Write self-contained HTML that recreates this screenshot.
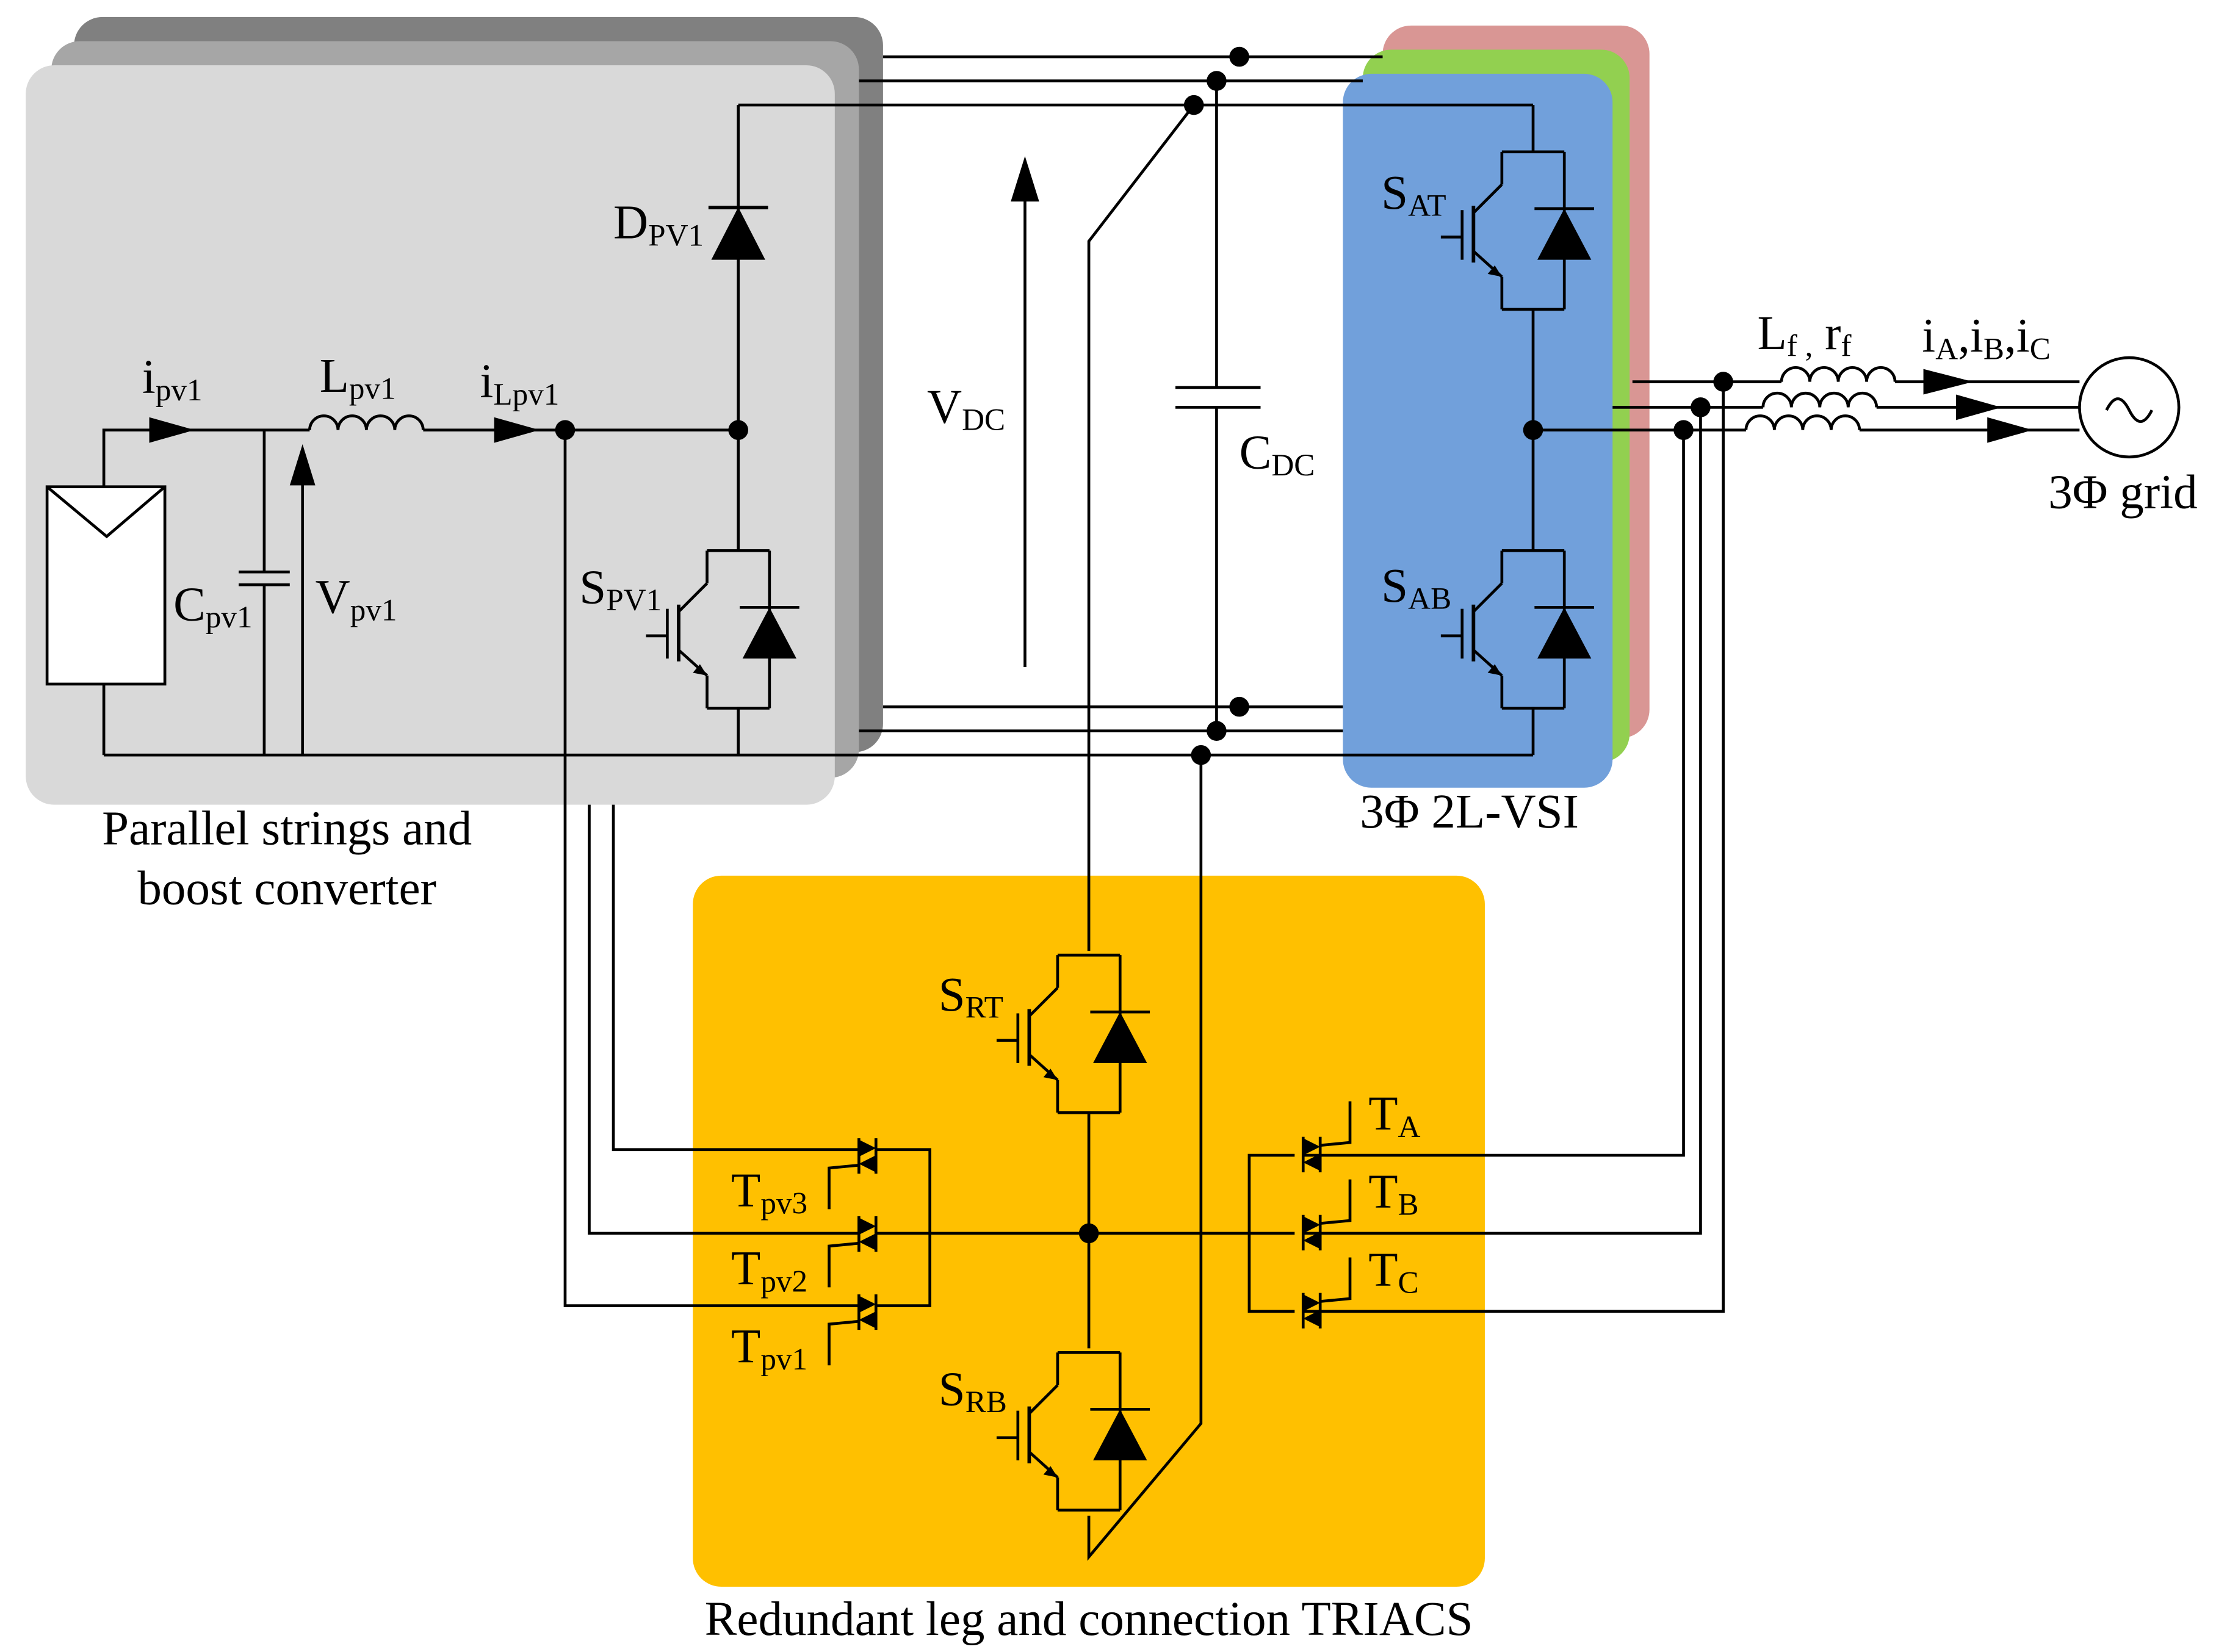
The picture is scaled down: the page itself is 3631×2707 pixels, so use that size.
<!DOCTYPE html>
<html><head><meta charset="utf-8"><style>
html,body{margin:0;padding:0;background:#fff;}
svg{display:block;}
text{font-family:"Liberation Serif",serif;fill:#000;}
</style></head><body>
<svg width="3631" height="2707" viewBox="0 0 1561 1164" xmlns="http://www.w3.org/2000/svg">
<defs>
<g id="igbt" stroke="#000" stroke-width="2" fill="none">
<line x1="-22" y1="0" x2="22" y2="0"/>
<line x1="-22" y1="0" x2="-22" y2="23"/>
<line x1="22" y1="0" x2="22" y2="111"/>
<line x1="-22" y1="23" x2="-42" y2="43"/>
<line x1="-42" y1="38" x2="-42" y2="78" stroke-width="2.5"/>
<line x1="-50" y1="41" x2="-50" y2="76"/>
<line x1="-65" y1="60" x2="-50" y2="60"/>
<line x1="-42" y1="70" x2="-22" y2="88"/>
<line x1="-22" y1="88" x2="-22" y2="111"/>
<line x1="-22" y1="111" x2="22" y2="111"/>
<polygon points="3,76 41,76 22,40" fill="#000" stroke="none"/>
<line x1="1" y1="40" x2="43" y2="40"/>
<polygon points="-22,88 -32,86 -27,80" fill="#000" stroke="none"/>
</g>
<g id="triac" stroke="#000" stroke-width="2" fill="none">
<line x1="-6" y1="-12" x2="-6" y2="13"/>
<line x1="6" y1="-12" x2="6" y2="13"/>
<polygon points="-6,-11 6,-5 -6,1" fill="#000" stroke="none"/>
<polygon points="6,0 -6,6 6,12" fill="#000" stroke="none"/>
<polyline points="-6,7 -27,9 -27,38"/>
</g>
</defs>

<rect x="52" y="12" width="570" height="518" rx="20" fill="#808080"/>
<rect x="36" y="29" width="569" height="519" rx="20" fill="#a6a6a6"/>
<rect x="18" y="46" width="570" height="521" rx="20" fill="#d9d9d9"/>
<rect x="974" y="18" width="188" height="502" rx="20" fill="#d99694"/>
<rect x="960" y="35" width="188" height="502" rx="20" fill="#92d050"/>
<rect x="946" y="52" width="190" height="503" rx="20" fill="#71a0db"/>
<rect x="488" y="617" width="558" height="501" rx="20" fill="#ffc000"/>

<g stroke="#000" stroke-width="2" fill="none">
<line x1="622" y1="40" x2="974" y2="40"/>
<line x1="605" y1="57" x2="960" y2="57"/>
<line x1="520" y1="74" x2="1080" y2="74"/>
<line x1="622" y1="498" x2="946" y2="498"/>
<line x1="605" y1="515" x2="946" y2="515"/>
<line x1="73" y1="532" x2="1080" y2="532"/>
<polyline points="841,74 767,170 767,670"/>
<polyline points="846,532 846,1003 767,1097 767,1068"/>
<line x1="857" y1="57" x2="857" y2="273"/>
<line x1="857" y1="287" x2="857" y2="515"/>
<line x1="828" y1="273" x2="888" y2="273"/>
<line x1="828" y1="287" x2="888" y2="287"/>
<rect x="33" y="343" width="83" height="139" fill="#fff"/>
<polyline points="33,343 75,378 116,343"/>
<polyline points="73,343 73,303 218,303"/>
<line x1="73" y1="482" x2="73" y2="532"/>
<line x1="186" y1="303" x2="186" y2="403"/>
<line x1="186" y1="412" x2="186" y2="532"/>
<line x1="168" y1="403" x2="204" y2="403"/>
<line x1="168" y1="412" x2="204" y2="412"/>
<line x1="213" y1="532" x2="213" y2="335"/>
<path d="M218,303 a10,10 0 0 1 20,0 a10,10 0 0 1 20,0 a10,10 0 0 1 20,0 a10,10 0 0 1 20,0"/>
<line x1="298" y1="303" x2="520" y2="303"/>
<polyline points="398,303 398,920 605,920"/>
<line x1="520" y1="74" x2="520" y2="388"/>
<line x1="520" y1="498" x2="520" y2="532"/>
<line x1="722" y1="470" x2="722" y2="135"/>
<line x1="1080" y1="74" x2="1080" y2="107"/>
<line x1="1080" y1="218" x2="1080" y2="388"/>
<line x1="1080" y1="498" x2="1080" y2="532"/>
<line x1="1150" y1="269" x2="1255" y2="269"/>
<path d="M1255,269 a10,10 0 0 1 20,0 a10,10 0 0 1 20,0 a10,10 0 0 1 20,0 a10,10 0 0 1 20,0"/>
<line x1="1335" y1="269" x2="1465" y2="269"/>
<line x1="1136" y1="287" x2="1242" y2="287"/>
<path d="M1242,287 a10,10 0 0 1 20,0 a10,10 0 0 1 20,0 a10,10 0 0 1 20,0 a10,10 0 0 1 20,0"/>
<line x1="1322" y1="287" x2="1465" y2="287"/>
<line x1="1080" y1="303" x2="1230" y2="303"/>
<path d="M1230,303 a10,10 0 0 1 20,0 a10,10 0 0 1 20,0 a10,10 0 0 1 20,0 a10,10 0 0 1 20,0"/>
<line x1="1310" y1="303" x2="1465" y2="303"/>
<circle cx="1500" cy="287" r="35" fill="#fff"/>
<path d="M1484,289 q8,-16 16,0 q8,16 16,0"/>
<polyline points="1186,303 1186,814 918,814"/>
<polyline points="1198,287 1198,869 918,869"/>
<polyline points="1214,269 1214,924 918,924"/>
<polyline points="912,814 880,814 880,924 912,924"/>
<line x1="767" y1="869" x2="912" y2="869"/>
<polyline points="432,567 432,810 605,810"/>
<polyline points="415,567 415,869 605,869"/>
<polyline points="617,810 655,810 655,920 617,920"/>
<line x1="617" y1="869" x2="767" y2="869"/>
<line x1="767" y1="785" x2="767" y2="950"/>
</g>

<g fill="#000">
<polygon points="105,294 137,303 105,312"/>
<polygon points="348,294 380,303 348,312"/>
<polygon points="204,342 213,313 222,342"/>
<polygon points="712,142 722,110 732,142"/>
<polygon points="1355,260 1390,269 1355,278"/>
<polygon points="1378,278 1410,287 1378,296"/>
<polygon points="1400,294 1432,303 1400,312"/>
<polygon points="501,183 539,183 520,146"/>
<rect x="499" y="145" width="42" height="2.5"/>
<circle cx="873" cy="40" r="7"/><circle cx="857" cy="57" r="7"/><circle cx="841" cy="74" r="7"/>
<circle cx="873" cy="498" r="7"/><circle cx="857" cy="515" r="7"/><circle cx="846" cy="532" r="7"/>
<circle cx="398" cy="303" r="7"/><circle cx="520" cy="303" r="7"/>
<circle cx="1080" cy="303" r="7"/>
<circle cx="1214" cy="269" r="7"/><circle cx="1198" cy="287" r="7"/><circle cx="1186" cy="303" r="7"/>
<circle cx="767" cy="869" r="7"/>
</g>

<use href="#igbt" x="520" y="388"/>
<use href="#igbt" x="1080" y="107"/>
<use href="#igbt" x="1080" y="388"/>
<use href="#igbt" x="767" y="673"/>
<use href="#igbt" x="767" y="953"/>

<use href="#triac" x="611" y="814"/>
<use href="#triac" x="611" y="869"/>
<use href="#triac" x="611" y="924"/>
<use href="#triac" transform="translate(924,814) scale(-1,-1)"/>
<use href="#triac" transform="translate(924,869) scale(-1,-1)"/>
<use href="#triac" transform="translate(924,924) scale(-1,-1)"/>

<g font-size="34">
<text x="100" y="277">i<tspan font-size="22" dy="5">pv1</tspan></text>
<text x="225" y="276">L<tspan font-size="22" dy="5">pv1</tspan></text>
<text x="338" y="280">i<tspan font-size="22" dy="5">Lpv1</tspan></text>
<text x="432" y="168">D<tspan font-size="22" dy="5">PV1</tspan></text>
<text x="122" y="437">C<tspan font-size="22" dy="5">pv1</tspan></text>
<text x="222" y="432">V<tspan font-size="22" dy="5">pv1</tspan></text>
<text x="408" y="425">S<tspan font-size="22" dy="5">PV1</tspan></text>
<text x="653" y="298">V<tspan font-size="22" dy="5">DC</tspan></text>
<text x="873" y="330">C<tspan font-size="22" dy="5">DC</tspan></text>
<text x="973" y="147">S<tspan font-size="22" dy="5">AT</tspan></text>
<text x="973" y="424">S<tspan font-size="22" dy="5">AB</tspan></text>
<text x="1238" y="246">L<tspan font-size="22" dy="5">f ,</tspan><tspan dy="-5"> r</tspan><tspan font-size="22" dy="5">f</tspan></text>
<text x="1354" y="248">i<tspan font-size="22" dy="5">A</tspan><tspan dy="-5">,i</tspan><tspan font-size="22" dy="5">B</tspan><tspan dy="-5">,i</tspan><tspan font-size="22" dy="5">C</tspan></text>
<text x="1443" y="358">3Φ grid</text>
<text x="958" y="583">3Φ 2L-VSI</text>
<text x="202" y="595" text-anchor="middle">Parallel strings and</text>
<text x="202" y="637" text-anchor="middle">boost converter</text>
<text x="661" y="712">S<tspan font-size="22" dy="5">RT</tspan></text>
<text x="661" y="990">S<tspan font-size="22" dy="5">RB</tspan></text>
<text x="515" y="850">T<tspan font-size="22" dy="5">pv3</tspan></text>
<text x="515" y="905">T<tspan font-size="22" dy="5">pv2</tspan></text>
<text x="515" y="960">T<tspan font-size="22" dy="5">pv1</tspan></text>
<text x="964" y="796">T<tspan font-size="22" dy="5">A</tspan></text>
<text x="964" y="851">T<tspan font-size="22" dy="5">B</tspan></text>
<text x="964" y="906">T<tspan font-size="22" dy="5">C</tspan></text>
<text x="767" y="1152" text-anchor="middle">Redundant leg and connection TRIACS</text>
</g>
</svg>
</body></html>
